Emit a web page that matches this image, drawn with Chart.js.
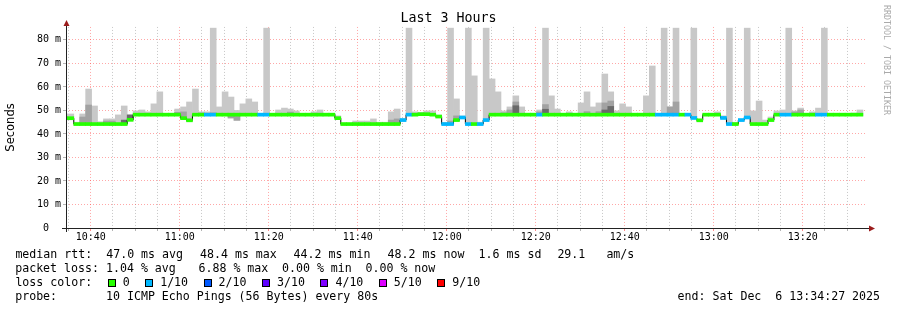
<!DOCTYPE html>
<html>
<head>
<meta charset="utf-8">
<title>Last 3 Hours</title>
<script src="https://cdn.jsdelivr.net/npm/chart.js@4.4.1/dist/chart.umd.min.js"></script>
<style>
  html, body { margin: 0; padding: 0; background: #fff; }
  #wrap { position: relative; width: 897px; height: 310px; overflow: hidden; background: #fff; }
  #chart { position: absolute; left: 0; top: 0; }
  .t { position: absolute; font-family: 'DejaVu Sans Mono', monospace; font-size: 11.6px; line-height: 14px; white-space: pre; color: #000; }
  .box { display: inline-block; width: 6px; height: 6px; border: 1px solid #000; margin-left: 15.5px; margin-right: 7px; vertical-align: -1px; }
  #credit { position: absolute; left: 882px; top: 5px; writing-mode: vertical-rl; font-family: 'DejaVu Sans Mono', monospace; font-size: 8.3px; line-height: 10px; color: #aaa; white-space: pre; }
</style>
</head>
<body>
<div id="wrap">
  <canvas id="chart" width="897" height="310"></canvas>
  <div id="credit">RRDTOOL / TOBI OETIKER</div>

  <div class="t" style="left:15.4px;top:247.3px">median rtt:</div>
  <div class="t" style="left:106.2px;top:247.3px">47.0 ms avg</div>
  <div class="t" style="left:200px;top:247.3px">48.4 ms max</div>
  <div class="t" style="left:293.6px;top:247.3px">44.2 ms min</div>
  <div class="t" style="left:387.6px;top:247.3px">48.2 ms now</div>
  <div class="t" style="left:478.6px;top:247.3px">1.6 ms sd</div>
  <div class="t" style="left:557.4px;top:247.3px">29.1</div>
  <div class="t" style="left:606.4px;top:247.3px">am/s</div>

  <div class="t" style="left:15.2px;top:261px">packet loss:</div>
  <div class="t" style="left:106px;top:261px">1.04 % avg</div>
  <div class="t" style="left:198.5px;top:261px">6.88 % max</div>
  <div class="t" style="left:282px;top:261px">0.00 % min</div>
  <div class="t" style="left:365.5px;top:261px">0.00 % now</div>

  <div class="t" id="lossRow" style="left:15.4px;top:275px">loss color:</div>

  <div class="t" style="left:15.2px;top:289px">probe:</div>
  <div class="t" style="left:106px;top:289px">10 ICMP Echo Pings (56 Bytes) every 80s</div>
  <div class="t" style="left:677.6px;top:289px">end: Sat Dec  6 13:34:27 2025</div>
</div>
<script>
// one bucket every 80 s, first (partly hidden) bucket starts 10:33:32
const stepSeconds = 80;
const firstBucket = '10:33:32';
const windowStart = '10:34:27';
const windowEnd = '13:34:27';

const xTickLabels = ['10:40', '11:00', '11:20', '11:40', '12:00', '12:20', '12:40', '13:00', '13:20'];
const yTickLabels = ['0', '10 m', '20 m', '30 m', '40 m', '50 m', '60 m', '70 m', '80 m'];

const lossLabels = ['0', '1/10', '2/10', '3/10', '4/10', '5/10', '9/10'];
const lossColors = ['#26ff00', '#00b8ff', '#0059ff', '#5e00ff', '#7e00ff', '#dd00ff', '#ff0000'];

// median rtt per bucket, ms
const medianMs = [
  46.7, 46.7, 44.2, 44.2, 44.2, 44.2, 44.2, 44.2, 44.2, 44.2,
  44.2, 46.0, 48.2, 48.2, 48.2, 48.2, 48.2, 48.2, 48.2, 48.2,
  46.7, 45.8, 48.2, 48.2, 48.2, 48.2, 48.2, 48.2, 48.2, 48.2,
  48.2, 48.2, 48.2, 48.2, 48.2, 48.2, 48.2, 48.2, 48.2, 48.2,
  48.2, 48.2, 48.2, 48.2, 48.2, 48.2, 46.7, 44.2, 44.2, 44.2,
  44.2, 44.2, 44.2, 44.2, 44.2, 44.2, 44.2, 45.9, 48.2, 48.2,
  48.4, 48.4, 48.2, 47.4, 44.2, 44.2, 45.9, 47.0, 44.2, 44.2,
  44.2, 45.9, 48.2, 48.2, 48.2, 48.2, 48.2, 48.2, 48.2, 48.2,
  48.2, 48.2, 48.2, 48.2, 48.2, 48.2, 48.2, 48.2, 48.2, 48.2,
  48.2, 48.2, 48.2, 48.2, 48.2, 48.2, 48.2, 48.2, 48.2, 48.2,
  48.2, 48.2, 48.2, 48.2, 48.2, 48.2, 46.8, 45.8, 48.2, 48.2,
  48.2, 46.8, 44.2, 44.2, 45.9, 47.0, 44.2, 44.2, 44.2, 45.9,
  48.2, 48.2, 48.2, 48.2, 48.2, 48.2, 48.2, 48.2, 48.2, 48.2,
  48.2, 48.2, 48.2, 48.2, 48.2
];

// loss level per bucket (index into lossColors)
const lossLevel = [
  0, 0, 0, 0, 0, 0, 0, 0, 0, 0,
  0, 0, 0, 0, 0, 0, 0, 0, 0, 0,
  0, 0, 0, 0, 1, 1, 0, 0, 0, 0,
  0, 0, 0, 1, 1, 0, 0, 0, 0, 0,
  0, 0, 0, 0, 0, 0, 0, 0, 0, 0,
  0, 0, 0, 0, 0, 0, 0, 1, 1, 0,
  0, 0, 0, 0, 1, 1, 0, 1, 1, 0,
  1, 1, 0, 0, 0, 0, 0, 0, 0, 0,
  1, 0, 0, 0, 0, 0, 0, 0, 0, 0,
  0, 0, 0, 0, 0, 0, 0, 0, 0, 0,
  1, 1, 1, 1, 0, 1, 1, 0, 0, 0,
  0, 1, 1, 0, 1, 1, 0, 0, 0, 0,
  0, 1, 1, 0, 0, 0, 0, 1, 1, 0,
  0, 0, 0, 0, 0
];

// smoke: fastest and slowest ping per bucket, ms
const smokeMaxMs = [
  48.5, 48.5, 45.0, 48.5, 59.1, 51.9, 45.2, 46.4, 46.4, 48.1,
  51.9, 48.1, 49.8, 50.2, 49.4, 52.8, 57.9, 48.6, 48.6, 50.6,
  51.5, 53.6, 59.1, 49.4, 49.4, 85.0, 51.5, 57.9, 55.7, 50.0,
  52.8, 54.9, 53.6, 48.6, 85.0, 48.6, 50.2, 51.0, 50.6, 49.8,
  48.6, 48.6, 49.4, 50.2, 48.6, 48.6, 47.7, 44.6, 44.6, 45.5,
  45.5, 45.5, 46.4, 45.0, 45.0, 49.4, 50.6, 46.5, 85.0, 49.4,
  49.2, 49.8, 49.8, 48.0, 44.9, 85.0, 54.9, 47.6, 85.0, 64.7,
  45.0, 85.0, 63.4, 57.9, 49.8, 51.5, 56.2, 51.5, 48.6, 48.8,
  50.2, 85.0, 56.2, 50.6, 48.6, 49.4, 48.6, 53.2, 57.9, 51.5,
  53.2, 65.5, 57.9, 49.8, 52.8, 51.5, 48.6, 48.6, 56.2, 68.9,
  48.6, 85.0, 51.5, 85.0, 48.6, 48.6, 85.0, 46.2, 48.6, 48.6,
  49.4, 47.7, 85.0, 45.0, 46.3, 85.0, 49.8, 54.0, 45.9, 47.2,
  49.8, 50.2, 85.0, 49.8, 51.0, 48.5, 49.4, 51.0, 85.0, 48.6,
  48.6, 48.6, 48.6, 48.9, 50.2
];
const smokeMinMs = [
  46.0, 46.0, 43.9, 43.9, 43.9, 43.9, 43.9, 43.9, 43.9, 43.9,
  43.9, 45.6, 47.8, 47.8, 47.8, 47.8, 47.8, 47.8, 47.8, 47.8,
  46.3, 45.4, 47.8, 47.8, 47.8, 47.8, 47.8, 47.8, 46.8, 45.8,
  47.8, 47.8, 47.8, 47.8, 47.8, 47.8, 47.8, 47.8, 47.8, 47.8,
  47.8, 47.8, 47.8, 47.8, 47.8, 47.8, 46.3, 43.9, 43.9, 43.9,
  43.9, 43.9, 43.9, 43.9, 43.9, 43.9, 43.9, 45.5, 47.8, 47.8,
  48.0, 48.0, 47.8, 47.0, 43.9, 43.9, 45.5, 46.6, 43.9, 43.9,
  43.9, 45.5, 47.8, 47.8, 47.8, 47.8, 47.8, 47.8, 47.8, 47.8,
  47.8, 47.8, 47.8, 47.8, 47.8, 47.8, 47.8, 47.8, 47.8, 47.8,
  47.8, 47.8, 47.8, 47.8, 47.8, 47.8, 47.8, 47.8, 47.8, 47.8,
  47.8, 47.8, 47.8, 47.8, 47.8, 47.8, 46.4, 45.4, 47.8, 47.8,
  47.8, 46.4, 43.9, 43.9, 45.5, 46.6, 43.9, 43.9, 43.9, 45.5,
  47.8, 47.8, 47.8, 47.8, 47.8, 47.8, 47.8, 47.8, 47.8, 47.8,
  47.8, 47.8, 47.8, 47.8, 47.8
];

// denser smoke where several pings overlap: [bucket, low ms, high ms]
const innerBands = [
  [3, 44.2, 47.2], [4, 44.2, 52.3], [7, 44.2, 45.5], [8, 44.2, 45.5],
  [19, 48.2, 49.2], [20, 46.7, 49.4], [23, 48.2, 48.9], [25, 48.2, 49.0],
  [28, 46.8, 48.2], [29, 45.8, 48.2], [38, 48.2, 49.3], [55, 44.2, 45.9],
  [56, 44.2, 46.4], [65, 44.2, 45.5], [66, 45.9, 47.7], [74, 48.2, 49.0],
  [75, 48.2, 50.2], [76, 48.2, 53.6], [80, 48.2, 49.4], [81, 48.2, 52.5],
  [88, 48.2, 49.5], [90, 48.2, 49.5], [91, 48.2, 53.2], [92, 48.2, 54.0],
  [102, 48.2, 51.5], [103, 48.2, 53.6], [123, 48.2, 49.4], [124, 48.2, 50.2]
];
const coreBands = [
  [10, 44.2, 45.9], [11, 46.0, 48.1], [76, 48.2, 52.0],
  [81, 48.2, 50.5], [91, 48.2, 50.2], [92, 48.2, 51.7]
];

const MONO = "'DejaVu Sans Mono', monospace";
const MAJOR = 'rgba(255, 60, 60, 0.45)';
const MINOR = 'rgba(130, 130, 130, 0.45)';
const LINE_HALF = 0.64;   // half thickness of the median line, ms

function toSec(hms) {
  const [h, m, s] = hms.split(':').map(Number);
  return h * 3600 + m * 60 + s;
}
function fmtHM(sec) {
  const h = Math.floor(sec / 3600);
  const m = Math.floor((sec % 3600) / 60);
  return String(h).padStart(2, '0') + ':' + String(m).padStart(2, '0');
}

const t0 = toSec(firstBucket);
const center = (i) => t0 + stepSeconds * (i + 0.5);
const edge = (i) => t0 + stepSeconds * i;

const smokeData = medianMs.map((m, i) => ({ x: center(i), y: [smokeMinMs[i], smokeMaxMs[i]] }));
const innerData = innerBands.map(([i, lo, hi]) => ({ x: center(i), y: [lo, hi] }));
const coreData = coreBands.map(([i, lo, hi]) => ({ x: center(i), y: [lo, hi] }));
const stepData = medianMs.map((m, i) => ({ x: edge(i), y: m }));
stepData.push({ x: edge(medianMs.length), y: medianMs[medianMs.length - 1] });
const medianData = medianMs.map((m, i) => ({ x: center(i), y: [m - LINE_HALF, m + LINE_HALF] }));

// loss colour legend row
const lossRow = document.getElementById('lossRow');
lossLabels.forEach((label, i) => {
  const box = document.createElement('span');
  box.className = 'box';
  box.style.background = lossColors[i];
  lossRow.appendChild(box);
  lossRow.appendChild(document.createTextNode(label));
});

// rrdtool style axis lines with arrow heads
const axesPlugin = {
  id: 'rrdAxes',
  afterDraw(chart) {
    const { ctx, chartArea: a } = chart;
    const y0 = a.bottom + 0.5;
    const x0 = a.left + 0.5;
    ctx.save();
    ctx.strokeStyle = '#222';
    ctx.lineWidth = 1;
    ctx.beginPath();
    ctx.moveTo(a.left - 4, y0);
    ctx.lineTo(a.right + 2, y0);
    ctx.moveTo(x0, a.bottom + 4);
    ctx.lineTo(x0, a.top - 2);
    ctx.stroke();
    ctx.fillStyle = '#9b1c1c';
    ctx.beginPath();
    ctx.moveTo(a.right + 2, y0 - 3);
    ctx.lineTo(a.right + 8, y0);
    ctx.lineTo(a.right + 2, y0 + 3);
    ctx.closePath();
    ctx.fill();
    ctx.beginPath();
    ctx.moveTo(x0 - 3, a.top - 1);
    ctx.lineTo(x0, a.top - 7);
    ctx.lineTo(x0 + 3, a.top - 1);
    ctx.closePath();
    ctx.fill();
    ctx.restore();
  },
};

const barCommon = {
  type: 'bar',
  grouped: false,
  barPercentage: 1,
  categoryPercentage: 1,
  borderWidth: 0,
};

new Chart(document.getElementById('chart'), {
  type: 'bar',
  data: {
    datasets: [
      { ...barCommon, label: 'smoke', data: smokeData, backgroundColor: '#c8c8c8', order: 5 },
      { ...barCommon, label: 'smoke inner', data: innerData, backgroundColor: '#a2a2a2', order: 4 },
      { ...barCommon, label: 'smoke core', data: coreData, backgroundColor: '#6a6a6a', order: 3 },
      {
        type: 'line',
        label: 'median steps',
        data: stepData,
        stepped: true,
        borderColor: '#000',
        borderWidth: 1,
        pointRadius: 0,
        fill: false,
        order: 2,
      },
      {
        ...barCommon,
        label: 'median rtt',
        data: medianData,
        backgroundColor: lossLevel.map((l) => lossColors[l]),
        order: 1,
      },
    ],
  },
  options: {
    responsive: false,
    animation: false,
    devicePixelRatio: 1,
    events: [],
    layout: { padding: 0 },
    plugins: {
      legend: { display: false },
      tooltip: { enabled: false },
      title: {
        display: true,
        text: 'Last 3 Hours',
        color: '#000',
        font: { family: MONO, size: 13.3, weight: 'normal', lineHeight: 1.2 },
        padding: { top: 11, bottom: 0 },
      },
    },
    scales: {
      x: {
        type: 'linear',
        min: toSec(windowStart),
        max: toSec(windowEnd),
        offset: false,
        z: 1,
        afterBuildTicks: (scale) => {
          const ticks = [];
          for (let v = Math.ceil(scale.min / 300) * 300; v <= scale.max; v += 300) ticks.push({ value: v });
          scale.ticks = ticks;
        },
        afterFit: (scale) => { scale.height = 82; },
        grid: {
          offset: false,
          color: (c) => (c.tick && c.tick.value % 1200 === 0 ? MAJOR : MINOR),
          tickColor: (c) => (c.tick && c.tick.value % 1200 === 0 ? 'rgba(255,60,60,0.6)' : 'rgba(130,130,130,0.6)'),
          tickLength: 3,
        },
        border: { display: false, dash: [1, 2] },
        ticks: {
          autoSkip: false,
          maxRotation: 0,
          minRotation: 0,
          padding: 0.5,
          color: '#000',
          font: { family: MONO, size: 10 },
          callback: (v) => {
            const label = fmtHM(v);
            return v % 1200 === 0 && xTickLabels.includes(label) ? label : '';
          },
        },
      },
      y: {
        min: 0,
        max: 85.5,
        z: 1,
        afterBuildTicks: (scale) => {
          const ticks = [];
          for (let v = 0; v <= 85; v += 5) ticks.push({ value: v });
          scale.ticks = ticks;
        },
        afterFit: (scale) => { scale.width = 66; },
        grid: {
          color: (c) => (c.tick && c.tick.value % 10 === 0 ? MAJOR : MINOR),
          tickColor: 'rgba(130,130,130,0.6)',
          tickLength: 3,
        },
        border: { display: false, dash: [1, 2] },
        ticks: {
          padding: 2,
          color: '#000',
          font: { family: MONO, size: 10 },
          callback: (v) => {
            const label = v === 0 ? '0' : v + ' m';
            if (v % 10 !== 0 || !yTickLabels.includes(label)) return '';
            return v === 0 ? '0  ' : label;
          },
        },
        title: {
          display: true,
          text: 'Seconds',
          color: '#000',
          font: { family: "'DejaVu Sans', sans-serif", size: 11.5, lineHeight: 1.2 },
          padding: { top: 3.9, bottom: 0 },
        },
      },
      // empty strip on the right (room for the arrow and credit text)
      yRight: {
        type: 'linear',
        position: 'right',
        display: true,
        grid: { display: false, drawTicks: false },
        border: { display: false },
        ticks: { display: false },
        afterFit: (scale) => { scale.width = 30; },
      },
    },
  },
  plugins: [axesPlugin],
});
</script>
</body>
</html>
